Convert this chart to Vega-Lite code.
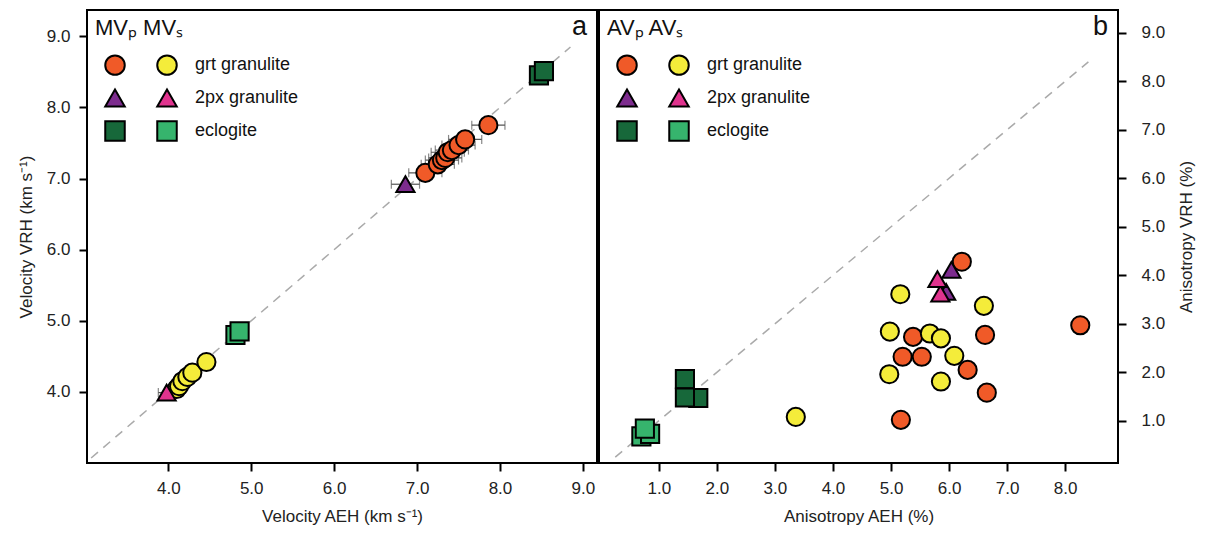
{
  "$schema": "https://vega.github.io/schema/vega-lite/v6.json",
  "autosize": {"type": "pad"},
  "padding": {"left": 16, "top": 9, "right": 0, "bottom": 0},
  "background": "white",
  "config": {
    "font": "Liberation Sans",
    "view": {"stroke": "black", "strokeWidth": 2},
    "concat": {"spacing": 0},
    "axis": {"grid": false, "domain": false, "tickColor": "black", "tickWidth": 2, "tickSize": 8, "labelFontSize": 17, "titleFontSize": 17, "labelColor": "#222", "titleColor": "#222", "titleFontWeight": "normal", "labelPadding": 9, "format": ".1f"},
    "axisX": {"titlePadding": 12},
    "title": {"fontSize": 27, "fontWeight": "normal", "color": "#111"}
  },
  "datasets": {
    "diag": [
      {"panel": "a", "x": 3.07, "y": 3.07},
      {"panel": "a", "x": 8.85, "y": 8.85},
      {"panel": "b", "x": 0.25, "y": 0.25},
      {"panel": "b", "x": 8.4, "y": 8.4}
    ],
    "pts": [
      {"panel": "a", "series": "P grt granulite", "x": 7.10, "y": 7.08, "ex": 0.2},
      {"panel": "a", "series": "P grt granulite", "x": 7.25, "y": 7.20, "ex": 0.2},
      {"panel": "a", "series": "P grt granulite", "x": 7.30, "y": 7.26, "ex": 0.2},
      {"panel": "a", "series": "P grt granulite", "x": 7.34, "y": 7.29, "ex": 0.2},
      {"panel": "a", "series": "P grt granulite", "x": 7.37, "y": 7.37, "ex": 0.2},
      {"panel": "a", "series": "P grt granulite", "x": 7.42, "y": 7.40, "ex": 0.2},
      {"panel": "a", "series": "P grt granulite", "x": 7.50, "y": 7.47, "ex": 0.2},
      {"panel": "a", "series": "P grt granulite", "x": 7.58, "y": 7.55, "ex": 0.2},
      {"panel": "a", "series": "P grt granulite", "x": 7.86, "y": 7.75, "ex": 0.2},
      {"panel": "a", "series": "S grt granulite", "x": 4.10, "y": 4.04, "ex": 0.08},
      {"panel": "a", "series": "S grt granulite", "x": 4.13, "y": 4.08, "ex": 0.08},
      {"panel": "a", "series": "S grt granulite", "x": 4.17, "y": 4.15, "ex": 0.08},
      {"panel": "a", "series": "S grt granulite", "x": 4.23, "y": 4.21, "ex": 0.08},
      {"panel": "a", "series": "S grt granulite", "x": 4.29, "y": 4.27, "ex": 0.08},
      {"panel": "a", "series": "S grt granulite", "x": 4.46, "y": 4.42, "ex": 0.08},
      {"panel": "a", "series": "P 2px granulite", "x": 6.86, "y": 6.92, "ex": 0.17},
      {"panel": "a", "series": "S 2px granulite", "x": 3.98, "y": 3.99, "ex": 0.1},
      {"panel": "a", "series": "P eclogite", "x": 8.47, "y": 8.45, "ex": 0},
      {"panel": "a", "series": "P eclogite", "x": 8.53, "y": 8.51, "ex": 0},
      {"panel": "a", "series": "S eclogite", "x": 4.81, "y": 4.80, "ex": 0},
      {"panel": "a", "series": "S eclogite", "x": 4.86, "y": 4.85, "ex": 0},

      {"panel": "b", "series": "P grt granulite", "x": 6.22, "y": 4.28, "ex": 0},
      {"panel": "b", "series": "P grt granulite", "x": 5.38, "y": 2.73, "ex": 0},
      {"panel": "b", "series": "P grt granulite", "x": 6.62, "y": 2.77, "ex": 0},
      {"panel": "b", "series": "P grt granulite", "x": 8.26, "y": 2.97, "ex": 0},
      {"panel": "b", "series": "P grt granulite", "x": 5.20, "y": 2.32, "ex": 0},
      {"panel": "b", "series": "P grt granulite", "x": 5.53, "y": 2.32, "ex": 0},
      {"panel": "b", "series": "P grt granulite", "x": 6.32, "y": 2.05, "ex": 0},
      {"panel": "b", "series": "P grt granulite", "x": 6.65, "y": 1.58, "ex": 0},
      {"panel": "b", "series": "P grt granulite", "x": 5.17, "y": 1.02, "ex": 0},
      {"panel": "b", "series": "S grt granulite", "x": 5.16, "y": 3.61, "ex": 0},
      {"panel": "b", "series": "S grt granulite", "x": 6.60, "y": 3.37, "ex": 0},
      {"panel": "b", "series": "S grt granulite", "x": 4.98, "y": 2.84, "ex": 0},
      {"panel": "b", "series": "S grt granulite", "x": 5.67, "y": 2.80, "ex": 0},
      {"panel": "b", "series": "S grt granulite", "x": 5.86, "y": 2.70, "ex": 0},
      {"panel": "b", "series": "S grt granulite", "x": 6.09, "y": 2.34, "ex": 0},
      {"panel": "b", "series": "S grt granulite", "x": 4.97, "y": 1.96, "ex": 0},
      {"panel": "b", "series": "S grt granulite", "x": 5.86, "y": 1.81, "ex": 0},
      {"panel": "b", "series": "S grt granulite", "x": 3.36, "y": 1.08, "ex": 0},
      {"panel": "b", "series": "P 2px granulite", "x": 6.04, "y": 4.11, "ex": 0},
      {"panel": "b", "series": "P 2px granulite", "x": 5.95, "y": 3.66, "ex": 0},
      {"panel": "b", "series": "S 2px granulite", "x": 5.85, "y": 3.62, "ex": 0},
      {"panel": "b", "series": "S 2px granulite", "x": 5.80, "y": 3.92, "ex": 0},
      {"panel": "b", "series": "P eclogite", "x": 1.45, "y": 1.86, "ex": 0},
      {"panel": "b", "series": "P eclogite", "x": 1.68, "y": 1.47, "ex": 0},
      {"panel": "b", "series": "P eclogite", "x": 1.45, "y": 1.48, "ex": 0},
      {"panel": "b", "series": "S eclogite", "x": 0.70, "y": 0.68, "ex": 0},
      {"panel": "b", "series": "S eclogite", "x": 0.85, "y": 0.73, "ex": 0},
      {"panel": "b", "series": "S eclogite", "x": 0.76, "y": 0.84, "ex": 0}
    ]
  },
  "hconcat": [
    {
      "width": 510,
      "height": 453,
      "title": {"text": "a", "anchor": "end", "frame": "group", "offset": -31, "dx": -10},
      "encoding": {
        "x": {"field": "x", "type": "quantitative", "title": "Velocity AEH (km s⁻¹)", "scale": {"domain": [3.02, 9.17], "nice": false, "zero": false}, "axis": {"values": [4, 5, 6, 7, 8, 9]}},
        "y": {"field": "y", "type": "quantitative", "title": "Velocity VRH (km s⁻¹)", "scale": {"domain": [3.0, 9.37], "nice": false, "zero": false}, "axis": {"values": [4, 5, 6, 7, 8, 9], "titlePadding": 11}}
      },
      "layer": [
        {
          "data": {"name": "diag"},
          "transform": [{"filter": "datum.panel == 'a'"}],
          "mark": {"type": "line", "strokeDash": [9, 7], "color": "#aaaaaa", "strokeWidth": 1.5}
        },
        {
          "data": {"name": "pts"},
          "transform": [{"filter": "datum.panel == 'a' && datum.ex > 0"}],
          "mark": {"type": "errorbar", "ticks": {"size": 9}, "color": "#555555", "thickness": 1.2},
          "encoding": {"xError": {"field": "ex"}}
        },
        {
          "data": {"name": "pts"},
          "transform": [{"filter": "datum.panel == 'a'"}],
          "mark": {"type": "point", "filled": true, "strokeWidth": 2, "opacity": 1, "size": 330},
          "encoding": {
            "fill": {"field": "series", "type": "nominal", "scale": {"domain": ["P grt granulite", "S grt granulite", "P 2px granulite", "S 2px granulite", "P eclogite", "S eclogite"], "range": ["#F05A28", "#F4EC3A", "#7D2C8E", "#E0338E", "#17683A", "#36B46D"]},
              "legend": {"title": "MVₚ  MVₛ", "orient": "top-left", "direction": "horizontal", "offset": 8, "padding": 0, "columns": 2, "columnPadding": 4, "rowPadding": 6, "labelOffset": 17, "symbolOffset": 9, "titlePadding": 14, "symbolStrokeWidth": 2, "symbolStrokeColor": "black", "symbolSize": 380, "labelFontSize": 18, "titleFontSize": 22, "titleFontWeight": "normal", "labelColor": "#111", "titleColor": "#111", "labelExpr": "substring(datum.label,0,1)=='S' ? substring(datum.label,2) : ''"}},
            "shape": {"field": "series", "type": "nominal", "scale": {"domain": ["P grt granulite", "S grt granulite", "P 2px granulite", "S 2px granulite", "P eclogite", "S eclogite"], "range": ["circle", "circle", "triangle-up", "triangle-up", "square", "square"]}},
            "stroke": {"field": "series", "type": "nominal", "scale": {"domain": ["P grt granulite", "S grt granulite", "P 2px granulite", "S 2px granulite", "P eclogite", "S eclogite"], "range": ["#000000", "#000000", "#000000", "#000000", "#000000", "#000000"]}}
          }
        }
      ]
    },
    {
      "width": 519,
      "height": 453,
      "title": {"text": "b", "anchor": "end", "frame": "group", "offset": -31, "dx": -10},
      "encoding": {
        "x": {"field": "x", "type": "quantitative", "title": "Anisotropy AEH (%)", "scale": {"domain": [-0.03, 8.91], "nice": false, "zero": false}, "axis": {"values": [1, 2, 3, 4, 5, 6, 7, 8]}},
        "y": {"field": "y", "type": "quantitative", "title": "Anisotropy VRH (%)", "scale": {"domain": [0.13, 9.47], "nice": false, "zero": false}, "axis": {"orient": "right", "values": [1, 2, 3, 4, 5, 6, 7, 8, 9], "titleAngle": 270, "titleBaseline": "top", "titlePadding": 14, "labelPadding": 15}}
      },
      "layer": [
        {
          "data": {"name": "diag"},
          "transform": [{"filter": "datum.panel == 'b'"}],
          "mark": {"type": "line", "strokeDash": [9, 7], "color": "#aaaaaa", "strokeWidth": 1.5}
        },
        {
          "data": {"name": "pts"},
          "transform": [{"filter": "datum.panel == 'b'"}],
          "mark": {"type": "point", "filled": true, "strokeWidth": 2, "opacity": 1, "size": 330},
          "encoding": {
            "fill": {"field": "series", "type": "nominal", "scale": {"domain": ["P grt granulite", "S grt granulite", "P 2px granulite", "S 2px granulite", "P eclogite", "S eclogite"], "range": ["#F05A28", "#F4EC3A", "#7D2C8E", "#E0338E", "#17683A", "#36B46D"]},
              "legend": {"title": "AVₚ  AVₛ", "orient": "top-left", "direction": "horizontal", "offset": 8, "padding": 0, "columns": 2, "columnPadding": 4, "rowPadding": 6, "labelOffset": 17, "symbolOffset": 9, "titlePadding": 14, "symbolStrokeWidth": 2, "symbolStrokeColor": "black", "symbolSize": 380, "labelFontSize": 18, "titleFontSize": 22, "titleFontWeight": "normal", "labelColor": "#111", "titleColor": "#111", "labelExpr": "substring(datum.label,0,1)=='S' ? substring(datum.label,2) : ''"}},
            "shape": {"field": "series", "type": "nominal", "scale": {"domain": ["P grt granulite", "S grt granulite", "P 2px granulite", "S 2px granulite", "P eclogite", "S eclogite"], "range": ["circle", "circle", "triangle-up", "triangle-up", "square", "square"]}},
            "stroke": {"field": "series", "type": "nominal", "scale": {"domain": ["P grt granulite", "S grt granulite", "P 2px granulite", "S 2px granulite", "P eclogite", "S eclogite"], "range": ["#000000", "#000000", "#000000", "#000000", "#000000", "#000000"]}}
          }
        }
      ]
    }
  ],
  "resolve": {
    "scale": {"x": "independent", "y": "independent", "fill": "independent", "shape": "independent", "stroke": "independent"},
    "legend": {"fill": "independent", "shape": "independent", "stroke": "independent"}
  }
}
